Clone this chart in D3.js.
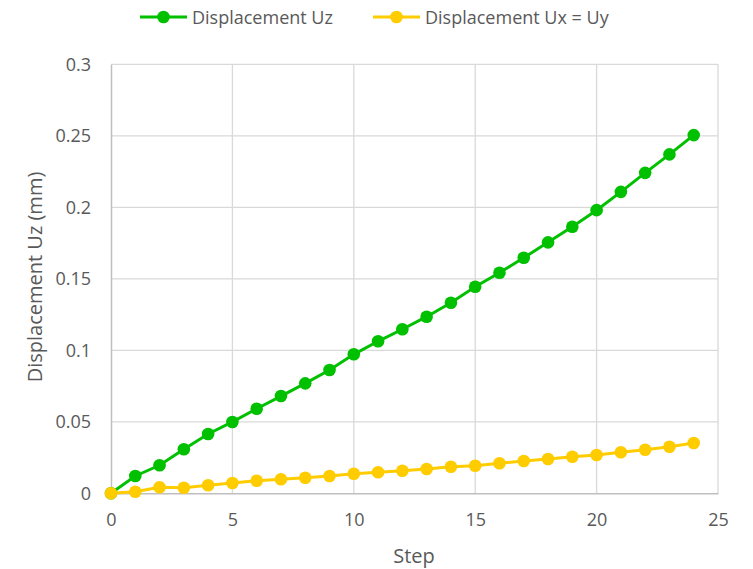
<!DOCTYPE html>
<html><head><meta charset="utf-8">
<script src="https://cdn.jsdelivr.net/npm/d3@7"></script>
<style>body{margin:0;background:#fff}svg{display:block}</style>
</head><body>
<script>
const steps = [0,1,2,3,4,5,6,7,8,9,10,11,12,13,14,15,16,17,18,19,20,21,22,23,24];
const uz = [0,0.0121,0.0196,0.0308,0.0415,0.0499,0.0591,0.068,0.0769,0.0862,0.0972,0.1063,0.1147,0.1235,0.1333,0.1444,0.1542,0.1647,0.1755,0.1864,0.198,0.2108,0.2241,0.237,0.2505];
const uxy = [0,0.0011,0.0042,0.0039,0.0056,0.0072,0.0088,0.0098,0.0109,0.0121,0.0137,0.0147,0.0158,0.017,0.0186,0.0193,0.021,0.0226,0.024,0.0256,0.0268,0.0287,0.0305,0.0326,0.0352];
const xTicks = [0,5,10,15,20,25];
const yTicks = [0,0.05,0.1,0.15,0.2,0.25,0.3];
const seriesNames = ["Displacement Uz","Displacement Ux = Uy"];
const colors = ["#00c000","#ffcc00"];

const W=753,H=569;
const svg=d3.select("body").append("svg").attr("width",W).attr("height",H);
const font="'Open Sans', 'Noto Sans', sans-serif";
const x=d3.scaleLinear().domain([0,25]).range([111,718]);
const y=d3.scaleLinear().domain([0,0.3]).range([493.3,64.3]);

// gridlines
svg.append("g").selectAll("line").data(yTicks.filter(d=>d>0)).join("line")
 .attr("x1",x(0)).attr("x2",x(25)).attr("y1",d=>y(d)).attr("y2",d=>y(d))
 .attr("stroke","#d9d9d9").attr("stroke-width",1.3);
svg.append("g").selectAll("line").data(xTicks.filter(d=>d>0)).join("line")
 .attr("y1",y(0)).attr("y2",y(0.3)).attr("x1",d=>x(d)).attr("x2",d=>x(d))
 .attr("stroke","#d9d9d9").attr("stroke-width",1.3);

// axes
const xAxis=svg.append("g").attr("transform",`translate(0,${y(0)})`)
 .call(d3.axisBottom(x).tickValues(xTicks).tickSize(0).tickPadding(20).tickFormat(d3.format("d")));
const yAxis=svg.append("g").attr("transform",`translate(${x(0)},0)`)
 .call(d3.axisLeft(y).tickValues(yTicks).tickSize(0).tickPadding(20).tickFormat(d=>String(+d.toFixed(2))));
[xAxis,yAxis].forEach(a=>{
 a.select(".domain").attr("stroke","#bfbfbf").attr("stroke-width",1.5);
 a.selectAll("text").attr("fill","#595959").style("font-family",font).style("font-size","18px");
});

// series
const data=[uz,uxy];
data.forEach((vals,i)=>{
 const pts=steps.map((s,j)=>[s,vals[j]]);
 svg.append("path").datum(pts)
  .attr("d",d3.line().x(d=>x(d[0])).y(d=>y(d[1])))
  .attr("fill","none").attr("stroke",colors[i]).attr("stroke-width",3);
 svg.append("g").selectAll("circle").data(pts).join("circle")
  .attr("cx",d=>x(d[0])).attr("cy",d=>y(d[1])).attr("r",6.3).attr("fill",colors[i]);
});

// axis titles
svg.append("text").attr("x",414).attr("y",562.5).attr("text-anchor","middle")
 .attr("fill","#595959").style("font-family",font).style("font-size","20px").text("Step");
svg.append("text").attr("transform","translate(42,277) rotate(-90)").attr("text-anchor","middle")
 .attr("fill","#595959").style("font-family",font).style("font-size","20px").text("Displacement Uz (mm)");

// legend
const legX=[140,373];
seriesNames.forEach((n,i)=>{
 const g=svg.append("g");
 g.append("line").attr("x1",legX[i]).attr("x2",legX[i]+47).attr("y1",17).attr("y2",17)
  .attr("stroke",colors[i]).attr("stroke-width",3);
 g.append("circle").attr("cx",legX[i]+23.5).attr("cy",17).attr("r",6.3).attr("fill",colors[i]);
 g.append("text").attr("x",legX[i]+52).attr("y",23.5).attr("fill","#595959")
  .style("font-family",font).style("font-size","18px").text(n);
});
</script>
</body></html>
